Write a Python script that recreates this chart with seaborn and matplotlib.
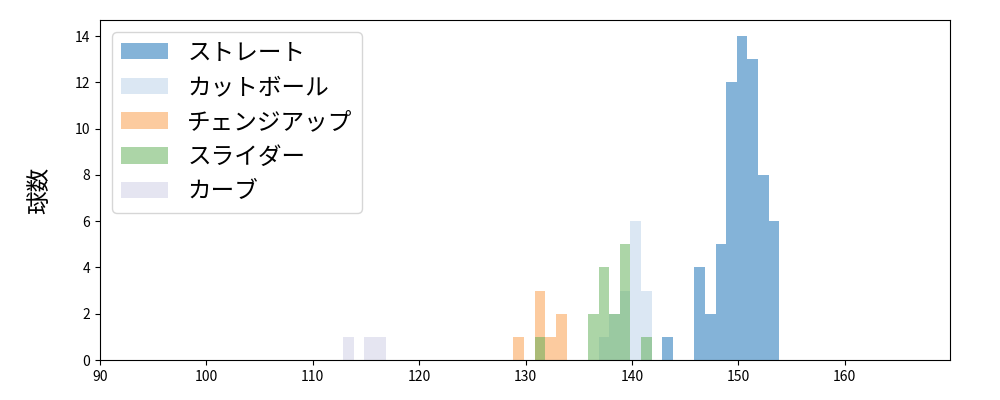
import numpy as np
import pandas as pd
import matplotlib
matplotlib.use('Agg')
import matplotlib.pyplot as plt
import seaborn as sns

# pitch types and their counts per 1 km/h bin
pitch_types = ['ストレート', 'カットボール', 'チェンジアップ', 'スライダー', 'カーブ']
colors = ['#0b69b3', '#b9d1e9', '#fb9941', '#5bad51', '#cdcde5']

straight_speed = [143, 146, 147, 148, 149, 150, 151, 152, 153]
straight_count = [1, 4, 2, 5, 12, 14, 13, 8, 6]

cutball_speed = [137, 138, 139, 140, 141]
cutball_count = [1, 2, 3, 6, 3]

changeup_speed = [129, 131, 132, 133]
changeup_count = [1, 3, 1, 2]

slider_speed = [131, 136, 137, 138, 139, 141]
slider_count = [1, 2, 4, 2, 5, 1]

curve_speed = [113, 115, 116]
curve_count = [1, 1, 1]

speeds = [straight_speed, cutball_speed, changeup_speed, slider_speed, curve_speed]
counts = [straight_count, cutball_count, changeup_count, slider_count, curve_count]

plt.rcParams['font.family'] = ['Noto Sans CJK JP', 'DejaVu Sans']

fig, ax = plt.subplots(figsize=(10, 4), dpi=100)
fig.subplots_adjust(left=0.1, right=0.95, top=0.95, bottom=0.1)

for name, col, sp, ct in zip(pitch_types, colors, speeds, counts):
    df = pd.DataFrame({'speed': sp, 'count': ct})
    sns.histplot(data=df, x='speed', weights='count', binwidth=1,
                 binrange=(89.86, 170.86), color=col,
                 alpha=0.5, linewidth=0, edgecolor='none', label=name, ax=ax)

ax.set_xlim(90, 169.9)
ax.set_xlabel('')
ax.set_ylabel('球数', fontsize=17, labelpad=17)
ax.legend(loc='upper left', fontsize=17)

plt.savefig('out.png')
